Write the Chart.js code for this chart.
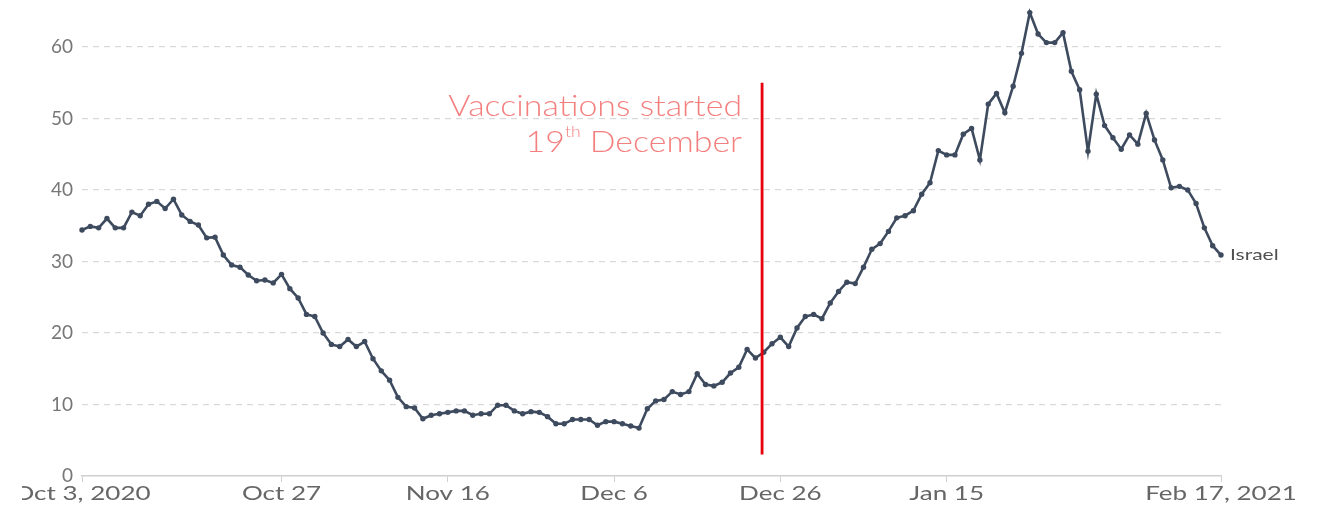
<!DOCTYPE html>
<html>
<head>
<meta charset="utf-8">
<script src="https://cdn.jsdelivr.net/npm/chart.js@4/dist/chart.umd.min.js"></script>
<style>
    body { margin: 0; background: #fff; }
    #wrap { width: 1327px; height: 507px; }
</style>
</head>
<body>
<div id="wrap"><canvas id="mychart" width="1327" height="507"></canvas></div>
<script>
// daily values, Oct 3 2020 -> Feb 17 2021
const startDate = new Date(2020, 9, 3);
const numDays = 138;

const israel = [
    34.4, 34.9, 34.7, 36.0, 34.7, 34.7, 36.9, 36.4, 38.0, 38.4, 37.4, 38.7, 36.5, 35.6, 35.1, 33.3, 33.4, 30.9, 29.5, 29.2, 28.1, 27.3, 27.4, 27.0, 28.2, 26.2, 24.9,
    22.6, 22.3, 20.0, 18.4, 18.1, 19.1, 18.1, 18.8, 16.4, 14.7, 13.4, 11.0, 9.7, 9.5, 8.0, 8.5, 8.7, 8.9, 9.1, 9.1, 8.5, 8.7, 8.7, 9.9, 9.9, 9.1, 8.7,
    9.0, 8.9, 8.3, 7.3, 7.3, 7.9, 7.9, 7.9, 7.1, 7.6, 7.6, 7.3, 7.0, 6.7, 9.4, 10.5, 10.7, 11.8, 11.4, 11.8, 14.3, 12.8, 12.6, 13.1, 14.4, 15.2, 17.7,
    16.5, 17.3, 18.5, 19.4, 18.1, 20.7, 22.3, 22.6, 22.0, 24.2, 25.8, 27.1, 26.9, 29.2, 31.7, 32.5, 34.2, 36.1, 36.4, 37.1, 39.4, 41.0, 45.5, 44.9, 44.9, 47.8,
    48.6, 44.2, 52.0, 53.5, 50.8, 54.5, 59.1, 64.8, 61.8, 60.6, 60.6, 62.0, 56.6, 54.0, 45.4, 53.4, 49.0, 47.3, 45.7, 47.7, 46.4, 50.7, 47.0, 44.2, 40.3, 40.5, 40.0, 38.1, 34.7, 32.2, 30.9
];

const tickIdx = [0, 24, 44, 64, 84, 104, 137];
const tickLabels = ['Oct 3, 2020', 'Oct 27', 'Nov 16', 'Dec 6', 'Dec 26', 'Jan 15', 'Feb 17, 2021'];
const yTicks = [0, 10, 20, 30, 40, 50, 60];

// where the red marker sits (day index) and its vertical extent
const vaccAt = 81.8;
const vaccRange = [3, 55];

const months = ['Jan', 'Feb', 'Mar', 'Apr', 'May', 'Jun', 'Jul', 'Aug', 'Sep', 'Oct', 'Nov', 'Dec'];
let days = [];
for (let i = 0; i < numDays; i++) {
    let d = new Date(startDate);
    d.setDate(d.getDate() + i);
    days.push(months[d.getMonth()] + ' ' + d.getDate());
}

// the source text is drawn wide, so stretch horizontally
function wideText(ctx, text, x, y, align, sx) {
    ctx.save();
    ctx.translate(x, y);
    ctx.scale(sx, 1);
    ctx.textAlign = align;
    ctx.fillText(text, 0, 0);
    ctx.restore();
}

const markerPlugin = {
    id: 'marker',
    afterDatasetsDraw(chart) {
        let ctx = chart.ctx;
        let x = chart.scales.x.getPixelForValue(vaccAt);
        let y1 = chart.scales.y.getPixelForValue(vaccRange[1]);
        let y0 = chart.scales.y.getPixelForValue(vaccRange[0]);
        ctx.save();
        ctx.strokeStyle = '#e8000b';
        ctx.lineWidth = 2.8;
        ctx.beginPath();
        ctx.moveTo(x, y1);
        ctx.lineTo(x, y0);
        ctx.stroke();

        // annotation text
        let sx = 1.17;
        let right = x - 20;
        let big = '300 29px Lato, "Open Sans", sans-serif';
        ctx.fillStyle = '#f47f7f';
        ctx.textBaseline = 'alphabetic';
        ctx.font = big;
        wideText(ctx, 'Vaccinations started', right, 116, 'right', sx);
        let tail = ' December';
        let wTail = ctx.measureText(tail).width * sx;
        wideText(ctx, tail, right, 152, 'right', sx);
        ctx.font = '300 15px Lato, "Open Sans", sans-serif';
        let wTh = ctx.measureText('th').width * sx;
        wideText(ctx, 'th', right - wTail, 137, 'right', sx);
        ctx.font = big;
        wideText(ctx, '19', right - wTail - wTh, 152, 'right', sx);

        // series label at the end of the line
        let meta = chart.getDatasetMeta(0);
        let last = meta.data[meta.data.length - 1];
        ctx.textBaseline = 'middle';
        ctx.fillStyle = '#505050';
        ctx.font = '15px Lato, sans-serif';
        wideText(ctx, 'Israel', last.x + 9, last.y, 'left', 1.4);
        ctx.restore();
    },
    afterDraw(chart) {
        // x tick labels
        let ctx = chart.ctx;
        let sc = chart.scales.x;
        ctx.save();
        ctx.beginPath();
        ctx.rect(22, sc.top, chart.width - 22, sc.height);
        ctx.clip();
        ctx.fillStyle = '#666';
        ctx.textBaseline = 'alphabetic';
        ctx.font = '19px Lato, sans-serif';
        tickIdx.forEach(function(i, k) {
            wideText(ctx, tickLabels[k], sc.getPixelForValue(i), 500, 'center', 1.37);
        });
        ctx.restore();
    }
};

makeChart();

function makeChart() {
    var ctx = document.getElementById('mychart');

    var myChart = new Chart(ctx, {
        type: 'line',
        data: {
            labels: days,
            datasets: [{
                label: 'Israel',
                data: israel,
                borderColor: '#3e4b5f',
                backgroundColor: '#3e4b5f',
                borderWidth: 2.6,
                pointRadius: 2.7,
                pointBorderWidth: 0,
                tension: 0
            }]
        },
        options: {
            responsive: false,
            animation: false,
            layout: { padding: { top: 4, right: 106, left: 0, bottom: 0 } },
            plugins: {
                legend: { display: false },
                tooltip: { enabled: false }
            },
            scales: {
                x: {
                    offset: false,
                    afterBuildTicks: function(scale) {
                        scale.ticks = tickIdx.map(function(i) { return { value: i }; });
                    },
                    afterFit: function(scale) {
                        scale.height = 31;
                        scale.paddingLeft = 0;
                        scale.paddingRight = 0;
                    },
                    ticks: { display: false },
                    grid: {
                        drawOnChartArea: false,
                        drawTicks: true,
                        tickLength: 6,
                        color: '#cfcfcf'
                    },
                    border: { color: '#cfcfcf', width: 1.5 }
                },
                y: {
                    min: 0,
                    max: 66,
                    afterBuildTicks: function(scale) {
                        scale.ticks = yTicks.map(function(v) { return { value: v }; });
                    },
                    afterFit: function(scale) {
                        scale.width = 82;
                        scale.paddingTop = 0;
                        scale.paddingBottom = 0;
                    },
                    ticks: {
                        padding: 9,
                        color: '#777',
                        font: { family: 'Lato', size: 19 }
                    },
                    grid: {
                        drawTicks: false,
                        lineWidth: 1.2,
                        color: function(c) { return c.tick && c.tick.value === 0 ? 'rgba(0,0,0,0)' : '#d9d9d9'; }
                    },
                    border: { display: false, dash: [6, 5] }
                }
            }
        },
        plugins: [markerPlugin]
    });
}
</script>
</body>
</html>
